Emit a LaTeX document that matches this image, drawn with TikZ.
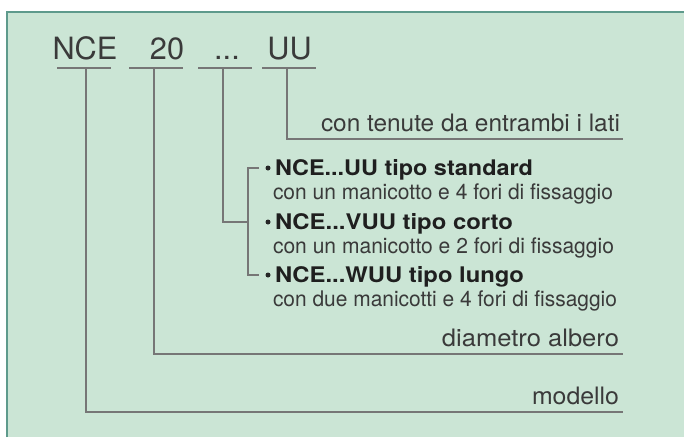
\documentclass[tikz,border=0pt]{standalone}
\usepackage{fontspec}
\setmainfont{TeX Gyre Heros}
\usetikzlibrary{calc}
\definecolor{bgcol}{HTML}{CBE5D5}
\definecolor{framecol}{HTML}{5E9A8C}
\definecolor{txtcol}{HTML}{3A3A3A}
\definecolor{lncol}{HTML}{767676}
\newcommand\fitw[2]{\resizebox{#1pt}{\height}{#2}}
\begin{document}
\begin{tikzpicture}[x=1pt,y=-1pt,
  every node/.style={inner sep=0pt,outer sep=0pt,text=txtcol},
  ln/.style={draw=lncol,line width=1.6pt},
  big/.style={font=\fontsize{30.7}{36}\selectfont,anchor=base},
  lab/.style={font=\fontsize{24}{28}\selectfont,anchor=base east},
  ttl/.style={font=\fontsize{21.5}{25}\selectfont\bfseries,anchor=base west,text=black!88},
  sub/.style={font=\fontsize{21.5}{25}\selectfont,anchor=base west},
  bul/.style={circle,fill=black!85,minimum size=5pt}]
\useasboundingbox (0,0) rectangle (684,437);
\fill[bgcol] (6.8,11.8) rectangle (684,437);
\draw[framecol,line width=1.8pt] (6.8,437) -- (6.8,11.8) -- (684,11.8);

% header
\node[big] (nce) at (85,59) {NCE};
\node[big] (n20) at (167,59) {20};
\node[big] (dots) at (227,59) {...};
\node[big] (uu) at (289.5,59) {UU};

\draw[ln] (57,68) -- (111,68);
\draw[ln] (129,68) -- (183,68);
\draw[ln] (198,68) -- (252,68);
\draw[ln] (262,68) -- (316,68);

\coordinate (a1) at (86,68);
\coordinate (a2) at (154,68);
\coordinate (a3) at (223,68);
\coordinate (a4) at (287,68);

% right labels
\node[lab] (ten) at (620,131) {\fitw{299}{con tenute da entrambi i lati}};
\node[lab] (diam) at (619,346) {\fitw{177}{diametro albero}};
\node[lab] (mod) at (619,404) {\fitw{87}{modello}};

\coordinate (e4) at (623,139);
\coordinate (e2) at (623,354);
\coordinate (e1) at (623,412);

\draw[ln] (a4) |- (e4);
\draw[ln] (a2) |- (e2);
\draw[ln] (a1) |- (e1);

% variants
\node[bul] (b1) at (268,168) {};
\node[bul] (b2) at (268,222) {};
\node[bul] (b3) at (268,275) {};

\node[ttl] (t1) at (275,175) {\fitw{258}{NCE...UU tipo standard}};
\node[sub] (s1) at (273,199) {\fitw{340}{con un manicotto e 4 fori di fissaggio}};
\node[ttl] (t2) at (275,229) {\fitw{238}{NCE...VUU tipo corto}};
\node[sub] (s2) at (273,253) {\fitw{341}{con un manicotto e 2 fori di fissaggio}};
\node[ttl] (t3) at (275,282) {\fitw{249}{NCE...WUU tipo lungo}};
\node[sub] (s3) at (273,306) {\fitw{344}{con due manicotti e 4 fori di fissaggio}};

\coordinate (k1) at (248,168);
\coordinate (k2) at (248,222);
\coordinate (k3) at (248,275);
\draw[ln,line width=1.3pt] ($(b1)+(-9,0)$) -- (k1) -- (k3) -- ($(b3)+(-9,0)$);
\draw[ln] (a3) |- (k2);
\end{tikzpicture}
\end{document}
